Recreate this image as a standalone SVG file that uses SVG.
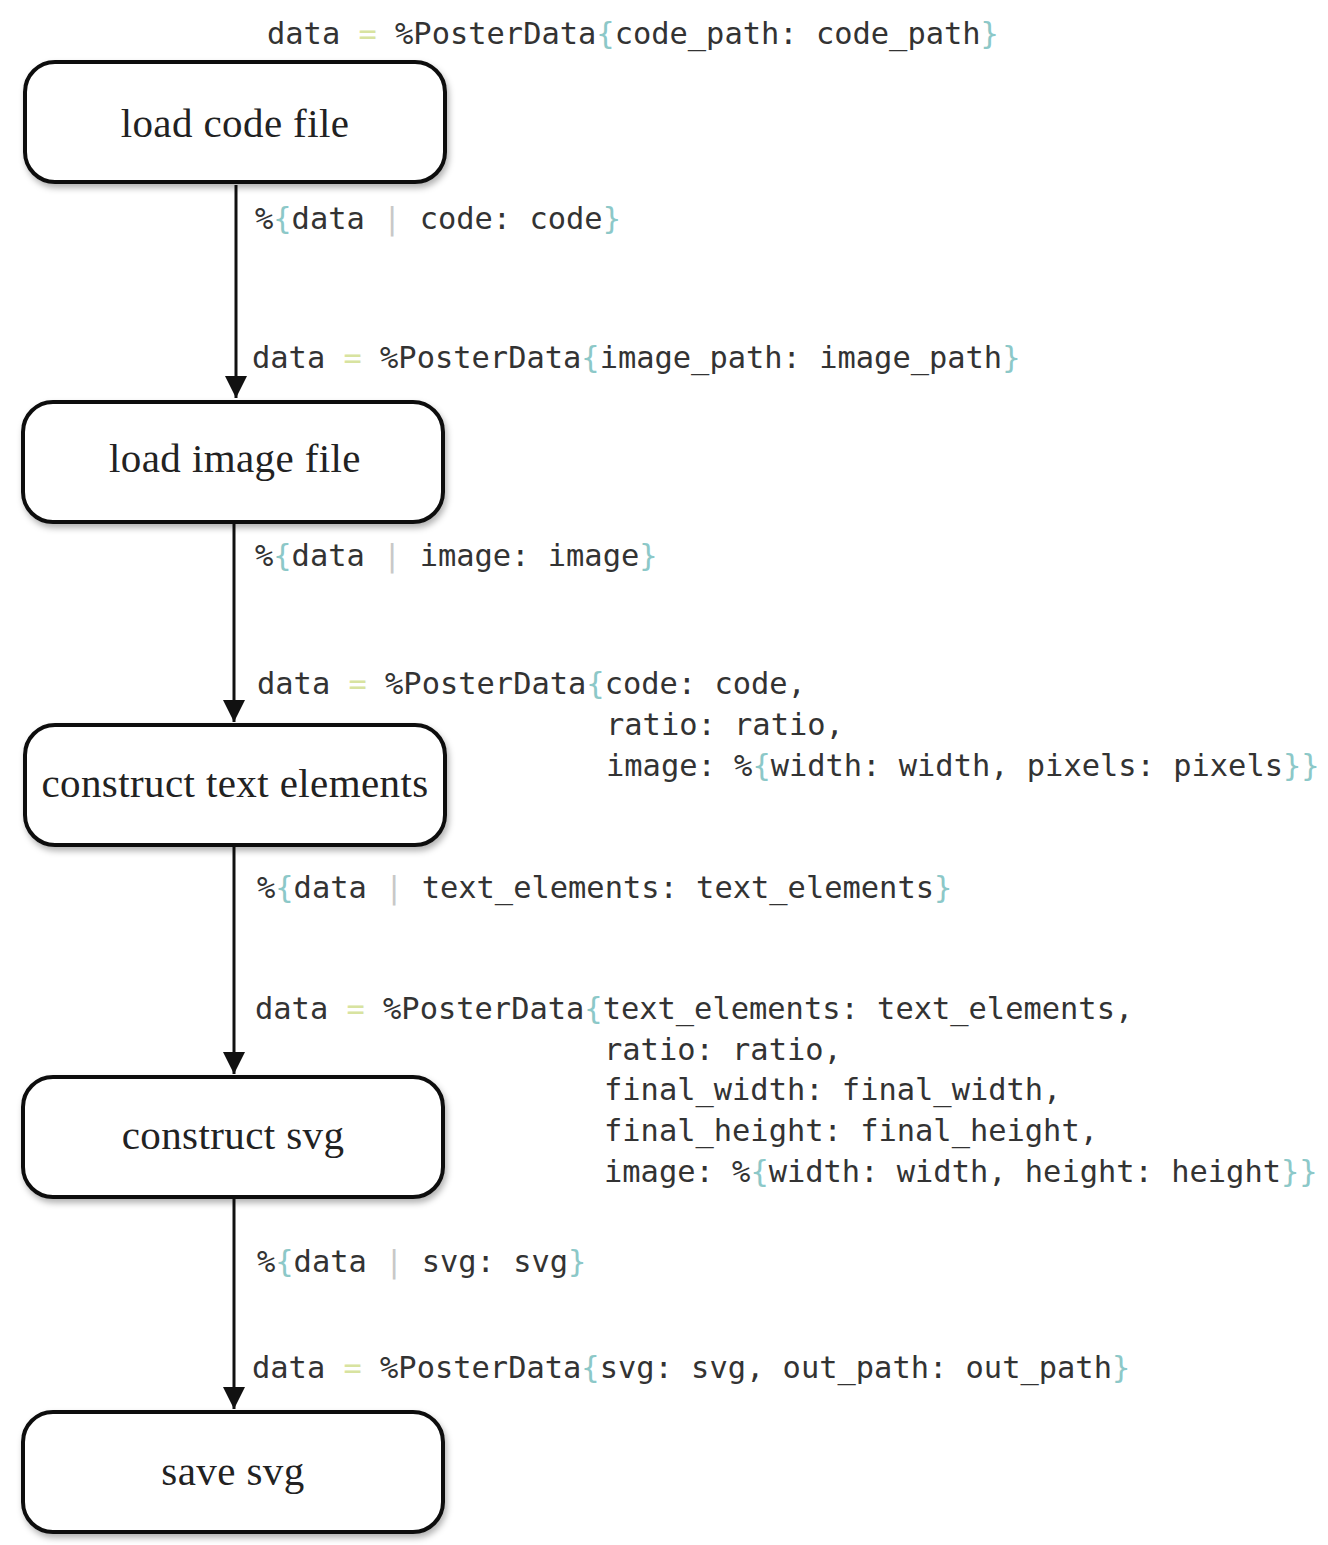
<svg xmlns="http://www.w3.org/2000/svg" width="1328" height="1545" viewBox="0 0 1328 1545">
<defs>
<style>
.box{fill:#fff;stroke:#111;stroke-width:4;filter:url(#sh)}
.lbl{font-family:"Liberation Serif","Times New Roman",serif;font-size:41px;letter-spacing:0.4px;fill:#222;text-anchor:middle}
.code{font-family:"DejaVu Sans Mono","Liberation Mono",monospace;font-size:30.4px;fill:#333}
.eq{fill:#d8e3a0}
.br{fill:#8cc8c8}
.bar{fill:#c8c8c8}
.conn{stroke:#111;stroke-width:3;fill:none}
</style>
<filter id="sh" x="-10%" y="-10%" width="130%" height="140%">
<feDropShadow dx="2" dy="4" stdDeviation="3" flood-color="#000" flood-opacity="0.3"/>
</filter>
</defs>
<rect width="1328" height="1545" fill="#fff"/>
<g id="connectors">
<path class="conn" d="M236,185 V398"/>
<path d="M225,376 L236,398 L247,376 z" fill="#111"/>
<path class="conn" d="M234,522 V722"/>
<path d="M223,700 L234,722 L245,700 z" fill="#111"/>
<path class="conn" d="M234,845 V1074"/>
<path d="M223,1052 L234,1074 L245,1052 z" fill="#111"/>
<path class="conn" d="M234,1197 V1409"/>
<path d="M223,1387 L234,1409 L245,1387 z" fill="#111"/>
</g>
<g id="node1"><rect class="box" x="25" y="62" width="420" height="120" rx="30"/><text class="lbl" x="235" y="137">load code file</text></g>
<g id="node2"><rect class="box" x="23" y="402" width="420" height="120" rx="30"/><text class="lbl" x="235" y="472">load image file</text></g>
<g id="node3"><rect class="box" x="25" y="725" width="420" height="120" rx="30"/><text class="lbl" x="235" y="797">construct text elements</text></g>
<g id="node4"><rect class="box" x="23" y="1077" width="420" height="120" rx="30"/><text class="lbl" x="233" y="1149">construct svg</text></g>
<g id="node5"><rect class="box" x="23" y="1412" width="420" height="120" rx="30"/><text class="lbl" x="233" y="1485">save svg</text></g>
<g id="labels" class="code">
<text class="code" x="267" y="44">data <tspan class="eq">=</tspan> %PosterData<tspan class="br">{</tspan>code_path: code_path<tspan class="br">}</tspan></text>
<text class="code" x="255" y="229">%<tspan class="br">{</tspan>data <tspan class="bar">|</tspan> code: code<tspan class="br">}</tspan></text>
<text class="code" x="252" y="368">data <tspan class="eq">=</tspan> %PosterData<tspan class="br">{</tspan>image_path: image_path<tspan class="br">}</tspan></text>
<text class="code" x="255" y="566">%<tspan class="br">{</tspan>data <tspan class="bar">|</tspan> image: image<tspan class="br">}</tspan></text>
<text class="code" x="257" y="694">data <tspan class="eq">=</tspan> %PosterData<tspan class="br">{</tspan>code: code,</text>
<text class="code" x="606" y="735">ratio: ratio,</text>
<text class="code" x="606" y="776">image: %<tspan class="br">{</tspan>width: width, pixels: pixels<tspan class="br">}}</tspan></text>
<text class="code" x="257" y="898">%<tspan class="br">{</tspan>data <tspan class="bar">|</tspan> text_elements: text_elements<tspan class="br">}</tspan></text>
<text class="code" x="255" y="1019">data <tspan class="eq">=</tspan> %PosterData<tspan class="br">{</tspan>text_elements: text_elements,</text>
<text class="code" x="604" y="1060">ratio: ratio,</text>
<text class="code" x="604" y="1100">final_width: final_width,</text>
<text class="code" x="604" y="1141">final_height: final_height,</text>
<text class="code" x="604" y="1182">image: %<tspan class="br">{</tspan>width: width, height: height<tspan class="br">}}</tspan></text>
<text class="code" x="257" y="1272">%<tspan class="br">{</tspan>data <tspan class="bar">|</tspan> svg: svg<tspan class="br">}</tspan></text>
<text class="code" x="252" y="1378">data <tspan class="eq">=</tspan> %PosterData<tspan class="br">{</tspan>svg: svg, out_path: out_path<tspan class="br">}</tspan></text>
</g>
</svg>
